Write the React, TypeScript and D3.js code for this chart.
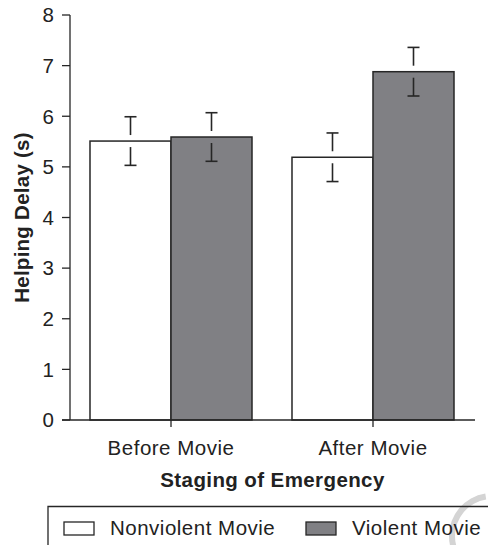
import React from "react";
import * as d3 from "d3";

const categories = ["Before Movie", "After Movie"];
const seriesNames = ["Nonviolent Movie", "Violent Movie"];
const nonviolentMeans = [5.51, 5.19];
const violentMeans = [5.59, 6.88];
const nonviolentErr = [0.48, 0.48];
const violentErr = [0.48, 0.48];
const yTicks = [0, 1, 2, 3, 4, 5, 6, 7, 8];

const seriesValues = [nonviolentMeans, violentMeans];
const seriesErrors = [nonviolentErr, violentErr];
const seriesFill = ["#ffffff", "#808084"];

export default function App() {
  const W = 488, H = 545;
  const x0 = 70, x1 = 474;
  const y = d3.scaleLinear().domain([0, 8]).range([420, 15]);
  const xg = d3.scaleBand<string>().domain(categories).range([x0, x1]).paddingInner(0.198).paddingOuter(0.099);
  const xs = d3.scaleBand<string>().domain(seriesNames).range([0, xg.bandwidth()]).padding(0);
  const ink = "#262626";
  const font = "'Liberation Sans', Arial, Helvetica, sans-serif";
  const gap = 6;
  const capW = 12;

  return (
    <svg width={W} height={H} style={{ position: "absolute", left: 0, top: 0, background: "#fff" }}>
      <rect x={0} y={0} width={W} height={H} fill="#fff" />
      {/* watermark */}
      <path d={d3.arc()({ innerRadius: 37, outerRadius: 43, startAngle: -Math.PI * 0.95, endAngle: -Math.PI * 0.05 }) || ""}
        transform="translate(492,536)" fill="#d4d4d4" />
      {/* bars */}
      {categories.map((c, ci) => (
        <g key={c} transform={`translate(${xg(c)},0)`}>
          {seriesNames.map((s, si) => {
            const v = seriesValues[si][ci];
            const e = seriesErrors[si][ci];
            const bx = xs(s)!;
            const cx = bx + xs.bandwidth() / 2;
            const top = y(v);
            return (
              <g key={s}>
                <rect x={bx} y={top} width={xs.bandwidth()} height={y(0) - top} fill={seriesFill[si]} stroke={ink} strokeWidth={1.5} />
                <line x1={cx} x2={cx} y1={y(v + e)} y2={top - gap} stroke={ink} strokeWidth={1.6} />
                <line x1={cx - capW / 2} x2={cx + capW / 2} y1={y(v + e)} y2={y(v + e)} stroke={ink} strokeWidth={1.6} />
                <line x1={cx} x2={cx} y1={top + gap} y2={y(v - e)} stroke={ink} strokeWidth={1.6} />
                <line x1={cx - capW / 2} x2={cx + capW / 2} y1={y(v - e)} y2={y(v - e)} stroke={ink} strokeWidth={1.6} />
              </g>
            );
          })}
        </g>
      ))}
      {/* y axis */}
      <line x1={x0} x2={x0} y1={y(8)} y2={y(0)} stroke={ink} strokeWidth={1.3} />
      {yTicks.map((t) => (
        <g key={t}>
          <line x1={x0 - 8} x2={x0} y1={y(t)} y2={y(t)} stroke={ink} strokeWidth={1.3} />
          <text x={x0 - 16} y={y(t) + 7.3} textAnchor="end" fontFamily={font} fontSize={20.5} fill="#222">{t}</text>
        </g>
      ))}
      {/* x axis */}
      <line x1={x0 - 8} x2={475} y1={y(0)} y2={y(0)} stroke={ink} strokeWidth={1.3} />
      {categories.map((c) => {
        const cx = xg(c)! + xg.bandwidth() / 2;
        return (
          <g key={c}>
            <line x1={cx} x2={cx} y1={y(0)} y2={y(0) + 7} stroke={ink} strokeWidth={1.3} />
            <text x={cx} y={455} textAnchor="middle" fontFamily={font} fontSize={20.5} fill="#222" letterSpacing={0.5}>{c}</text>
          </g>
        );
      })}
      <text x={(x0 + 475) / 2} y={487} textAnchor="middle" fontFamily={font} fontSize={20.5} fontWeight="bold" fill="#222" letterSpacing={0.4}>Staging of Emergency</text>
      <text transform={`translate(29,${(y(8) + y(0)) / 2}) rotate(-90)`} textAnchor="middle" fontFamily={font} fontSize={20.5} fontWeight="bold" fill="#222" letterSpacing={0.25}>Helping Delay (s)</text>
      {/* legend */}
      <path d={`M48,${H + 2} V506.5 H${W + 2}`} fill="none" stroke={ink} strokeWidth={1.3} />
      {seriesNames.map((s, si) => {
        const lx = [64, 306][si];
        return (
          <g key={s}>
            <rect x={lx} y={522} width={30} height={13} fill={seriesFill[si]} stroke={ink} strokeWidth={1.3} />
            <text x={lx + 46} y={535} fontFamily={font} fontSize={20.5} fill="#222" letterSpacing={0.5}>{s}</text>
          </g>
        );
      })}
    </svg>
  );
}
